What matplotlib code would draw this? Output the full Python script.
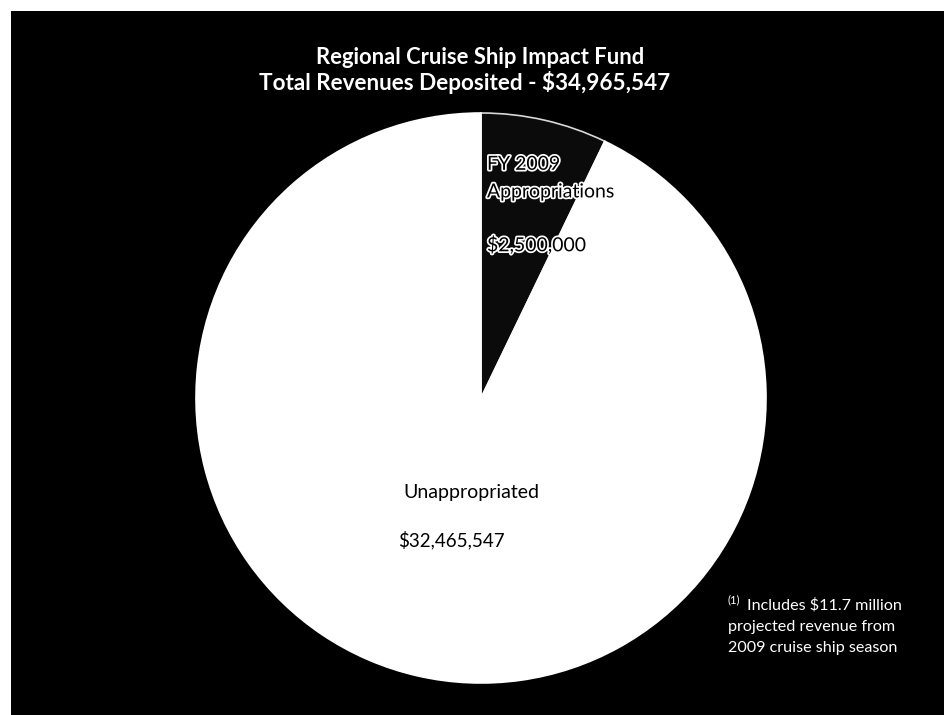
import matplotlib
matplotlib.use("Agg")
import matplotlib.pyplot as plt
from matplotlib.patches import Rectangle
import matplotlib.patheffects as pe

# fund breakdown
categories = ["FY 2009\nAppropriations", "Unappropriated"]
amounts = [2500000, 32465547]
total = sum(amounts)
slice_colors = ["#0b0b0b", "#ffffff"]

title_lines = ["Regional Cruise Ship Impact Fund",
               "Total Revenues Deposited - ${:,.0f}".format(total)]
note_lines = ["Includes $11.7 million", "projected revenue from",
              "2009 cruise ship season"]

plt.rcParams["font.family"] = ["Lato", "DejaVu Sans"]

W, H = 944, 715
fig = plt.figure(figsize=(W / 100, H / 100), dpi=100)
fig.patch.set_facecolor("white")
fig.patches.append(Rectangle((11 / W, 0), 1 - 11 / W, 1 - 11 / H,
                             transform=fig.transFigure, facecolor="black",
                             edgecolor="none", zorder=-5))

# pie centre (481, 398) px, radius 285 px
cx, cy, r = 481, 398, 285
ax = fig.add_axes([(cx - r) / W, (H - cy - r) / H, 2 * r / W, 2 * r / H])
ax.set_zorder(2)
ax.set_facecolor("none")
wedges, _ = ax.pie(amounts, colors=slice_colors, startangle=90,
                   counterclock=False, radius=1,
                   wedgeprops=dict(linewidth=1.2, edgecolor="#d8d8d8"))
wedges[1].set_edgecolor("white")
ax.set_xlim(-1, 1)
ax.set_ylim(-1, 1)
ax.set_aspect("equal")
ax.axis("off")

halo = [pe.withStroke(linewidth=2.5, foreground="white")]
ax.text(0.021, 0.82, "FY 2009", fontsize=14, color="black", va="center",
        ha="left", path_effects=halo, parse_math=False)
ax.text(0.021, 0.723, "Appropriations", fontsize=14, color="black",
        va="center", ha="left", path_effects=halo, parse_math=False)
ax.text(0.021, 0.537, "${:,.0f}".format(amounts[0]), fontsize=14,
        color="black", va="center", ha="left", path_effects=halo,
        parse_math=False)

ax.text(-0.274, -0.333, categories[1], fontsize=14, color="black",
        va="center", ha="left", parse_math=False)
ax.text(-0.291, -0.498, "${:,.0f}".format(amounts[1]), fontsize=13.5,
        color="black", va="center", ha="left", parse_math=False)

fig.text(480 / W, 1 - 57 / H, title_lines[0], fontsize=15.8, fontweight="bold",
         color="white", ha="center", va="center", parse_math=False)
fig.text(465 / W, 1 - 83 / H, title_lines[1], fontsize=16.2, fontweight="bold",
         color="white", ha="center", va="center", parse_math=False)

fig.text(728 / W, 1 - 600 / H, "(1)", fontsize=8, color="white",
         ha="left", va="center", parse_math=False)
for i, line in enumerate(note_lines):
    x0 = 747 if i == 0 else 728
    fig.text(x0 / W, 1 - (605 + 21.5 * i) / H, line, fontsize=11.6,
             color="white", ha="left", va="center", parse_math=False)

fig.savefig("out.png", dpi=100, facecolor=fig.get_facecolor())
